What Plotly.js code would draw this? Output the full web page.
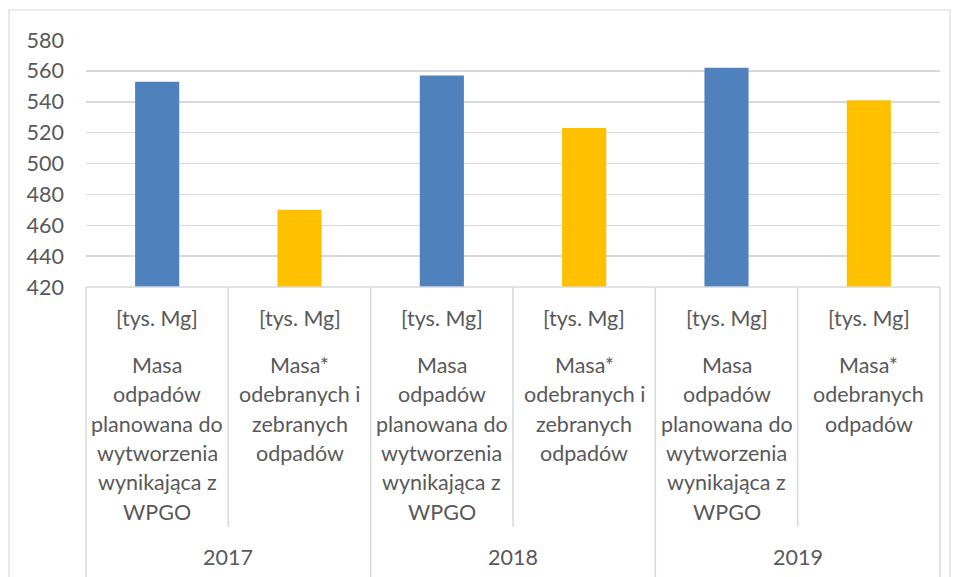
<!DOCTYPE html>
<html>
<head>
<meta charset="utf-8">
<script src="https://cdn.plot.ly/plotly-3.0.1.min.js"></script>
<style>html,body{margin:0;padding:0;background:#fff;}#chart{width:956px;height:577px;}</style>
</head>
<body>
<div id="chart"></div>
<script>
var years = ['2017', '2018', '2019'];
var unitLabel = '[tys. Mg]';
var plannedLabel = 'Masa<br>odpadów<br>planowana do<br>wytworzenia<br>wynikająca z<br>WPGO';
var collectedLabels = ['Masa*<br>odebranych i<br>zebranych<br>odpadów', 'Masa*<br>odebranych i<br>zebranych<br>odpadów', 'Masa*<br>odebranych<br>odpadów'];
var plannedValues = [553, 557, 562];
var collectedValues = [470, 523, 541];
var yTicks = [420, 440, 460, 480, 500, 520, 540, 560, 580];

var FONT = 'Lato, "Open Sans", sans-serif';
var FS = 21.5;
var TXT = '#595959';
var LINE = '#d9d9d9';
var nCat = years.length * 2;

var px = years.map(function(_, i){ return 2*i; });
var cx = years.map(function(_, i){ return 2*i + 1; });

var traces = [
  {type:'bar', x:px, y:plannedValues, width:0.31, marker:{color:'#4f81bd'}, hoverinfo:'y', showlegend:false, base:0},
  {type:'bar', x:cx, y:collectedValues, width:0.31, marker:{color:'#ffc000'}, hoverinfo:'y', showlegend:false, base:0}
];

var plotTop = 40, plotBottom = 287, plotH = plotBottom - plotTop;
function py(pix){ return -(pix - plotBottom) / plotH; }

var annotations = [];
var catLabels = [];
years.forEach(function(y, i){ catLabels.push(plannedLabel); catLabels.push(collectedLabels[i]); });
catLabels.forEach(function(lab, k){
  annotations.push({xref:'x', yref:'paper', x:k, y:0, yanchor:'middle', xanchor:'center', yshift:-(318-plotBottom), text:unitLabel, showarrow:false, font:{family:FONT, size:FS, color:TXT}});
  lab.split('<br>').forEach(function(line, j){
    annotations.push({xref:'x', yref:'paper', x:k, y:0, yanchor:'middle', xanchor:'center', yshift:-(365 + j*29.3 - plotBottom), text:line, showarrow:false, font:{family:FONT, size:FS, color:TXT}});
  });
});
years.forEach(function(y, i){
  annotations.push({xref:'x', yref:'paper', x:2*i+0.5, y:0, yanchor:'middle', xanchor:'center', yshift:-(557-plotBottom), text:y, showarrow:false, font:{family:FONT, size:FS, color:TXT}});
});

var shapes = [];
for (var k = 0; k <= nCat; k++) {
  var xp = k / nCat;
  var outer = (k % 2 === 0);
  shapes.push({type:'line', xref:'paper', yref:'paper', x0:xp, x1:xp, y0:0, y1: outer ? py(600) : py(527), line:{color:LINE, width:1.5}});
}
shapes.push({type:'line', xref:'paper', yref:'paper', x0:0, x1:1, y0:0, y1:0, line:{color:LINE, width:1.5}});
var W = 956 - 86 - 16;
shapes.push({type:'rect', xref:'paper', yref:'paper', x0:(9-86)/W, x1:(950-86)/W, y0:py(620), y1:py(10), line:{color:LINE, width:1.2}, fillcolor:'rgba(0,0,0,0)'});

var layout = {
  width:956, height:577,
  margin:{l:86, r:16, t:plotTop, b:577-plotBottom, pad:0},
  paper_bgcolor:'#fff', plot_bgcolor:'#fff',
  barmode:'overlay',
  showlegend:false,
  xaxis:{range:[-0.5, nCat-0.5], showticklabels:false, showgrid:false, zeroline:false, showline:false, ticks:'', fixedrange:true},
  yaxis:{range:[420, 580], tickvals:yTicks, ticktext:yTicks.map(String), showgrid:true, gridcolor:LINE, gridwidth:1.5, zeroline:false, showline:false, ticks:'', ticklabelstandoff:21, tickfont:{family:FONT, size:FS, color:TXT}, fixedrange:true},
  annotations:annotations,
  shapes:shapes
};

Plotly.newPlot('chart', traces, layout, {displayModeBar:false, staticPlot:true});
</script>
</body>
</html>
